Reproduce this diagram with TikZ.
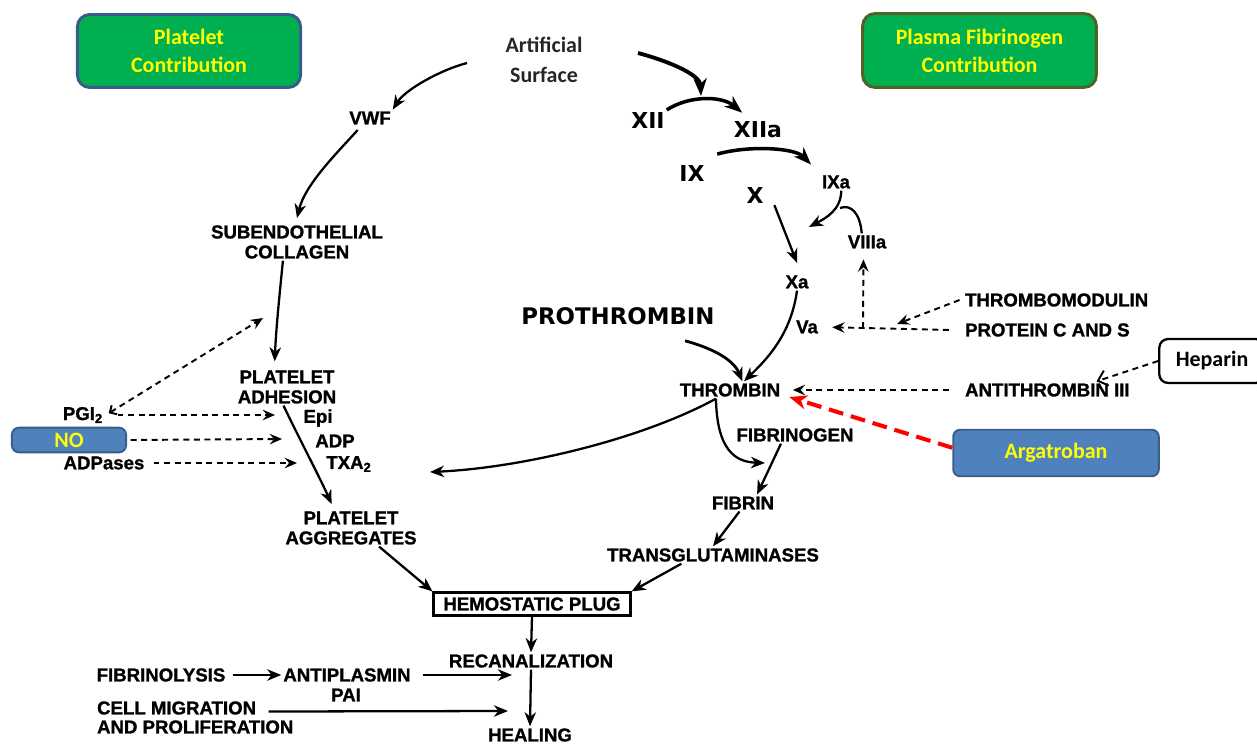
\documentclass[tikz,border=0pt]{standalone}
\usepackage{fontspec}
\setmainfont{Liberation Sans}
\newfontfamily\oldfont{Liberation Sans}[BoldFont=Liberation Sans Bold, BoldFeatures={FakeBold=1.2}]
\newfontfamily\calibri{Carlito}
\newfontfamily\dejavu{DejaVu Sans}
\usetikzlibrary{arrows.meta}

\definecolor{boxgreen}{RGB}{0,176,80}
\definecolor{boxblue}{RGB}{79,129,189}
\definecolor{blueedge}{RGB}{56,93,138}
\definecolor{oliveedge}{RGB}{79,98,40}
\definecolor{txtyellow}{RGB}{255,255,0}

\begin{document}
\begin{tikzpicture}[x=0.02cm, y=-0.02cm,
    old/.style={font=\oldfont\bfseries\fontsize{10.6}{11.4}\selectfont, inner sep=1pt, align=center},
    big/.style={font=\dejavu\bfseries\fontsize{12.5}{14}\selectfont, inner sep=1pt},
    label box/.style={rounded corners=7pt, fill=boxgreen, line width=1.7pt, inner sep=0pt,
        font=\calibri\bfseries\fontsize{12.5}{16}\selectfont, text=txtyellow, align=center},
    drug/.style={rounded corners=4pt, fill=boxblue, draw=blueedge, line width=1.1pt, inner sep=0pt,
        font=\calibri\bfseries\fontsize{12.5}{15}\selectfont, text=txtyellow},
    arr/.style={-{Stealth[length=8pt,width=6.5pt,inset=2.5pt]}, line width=1.3pt},
    heavy/.style={-{Stealth[length=10pt,width=7.5pt,inset=3pt]}, line width=2.2pt},
    dasharr/.style={-{Stealth[length=7pt,width=6pt,inset=2.5pt]}, line width=1.1pt, dash pattern=on 3.4pt off 2.6pt},
]
    \useasboundingbox (0,0) rectangle (1257,746);

    % headings
    \node[label box, draw=blueedge, minimum width=127pt, minimum height=41.5pt] (platelet) at (189,51) {Platelet\\Contribution};
    \node[label box, draw=oliveedge, minimum width=133pt, minimum height=42pt] (plasma) at (979.5,50.5) {Plasma Fibrinogen\\Contribution};
    \node[font=\calibri\bfseries\fontsize{12.5}{17}\selectfont, text=black!85, align=center] (art) at (544,60) {Artificial\\Surface};

    % platelet side
    \node[old] (vwf) at (370,118) {VWF};
    \node[old] (collagen) at (297,242) {SUBENDOTHELIAL\\COLLAGEN};
    \node[old] (adhesion) at (287,387) {PLATELET\\ADHESION};
    \node[old] (epi) at (318,418) {Epi};
    \node[old] (adp) at (335,441) {ADP};
    \node[old] (txa) at (349,464) {TXA\textsubscript{2}};
    \node[old] (aggr) at (351,528) {PLATELET\\AGGREGATES};
    \node[old] (pgi) at (83,415) {PGI\textsubscript{2}};
    \node[drug, minimum width=65pt, minimum height=14pt] (no) at (69,440) {NO};
    \node[old] (adpases) at (104,463) {ADPases};

    % coagulation side
    \node[big] (xii) at (648,120) {XII};
    \node[big] (xiia) at (758,130) {XIIa};
    \node[big] (ix) at (692,173) {IX};
    \node[big] (x) at (755,195) {X};
    \node[old] (ixa) at (836,182) {IXa};
    \node[old] (viiia) at (867,242) {VIIIa};
    \node[old] (xa) at (797,282) {Xa};
    \node[old] (va) at (807,327) {Va};
    \node[big, font=\dejavu\bfseries\fontsize{13}{14}\selectfont] (prothrombin) at (618,316) {PROTHROMBIN};
    \node[old] (thrombin) at (730,390) {THROMBIN};
    \node[old, anchor=west] (thrombomodulin) at (963,300) {THROMBOMODULIN};
    \node[old, anchor=west] (proteincs) at (963,330) {PROTEIN C AND S};
    \node[old, anchor=west] (antithrombin) at (963,390) {ANTITHROMBIN III};
    \node[draw, fill=white, rounded corners=5pt, line width=1.3pt, minimum width=60pt, minimum height=25pt,
        font=\calibri\bfseries\fontsize{12.5}{15}\selectfont] (heparin) at (1212,361) {Heparin};
    \node[drug, minimum width=117pt, minimum height=26.5pt] (argatroban) at (1056,453) {Argatroban};
    \node[old] (fibrinogen) at (795,435) {FIBRINOGEN};
    \node[old] (fibrin) at (743,503) {FIBRIN};
    \node[old] (transglut) at (713,555) {TRANSGLUTAMINASES};

    % plug and healing
    \node[old, draw, line width=1.3pt, minimum width=112pt, minimum height=13pt] (plug) at (532,604) {HEMOSTATIC PLUG};
    \node[old] (recan) at (531,661) {RECANALIZATION};
    \node[old] (healing) at (530,735) {HEALING};
    \node[old] (fibrinolysis) at (161,675) {FIBRINOLYSIS};
    \node[old] (antiplasmin) at (347,675) {ANTIPLASMIN};
    \node[old] (pai) at (346,695) {PAI};
    \node[old, anchor=west] (cell) at (95,708) {CELL MIGRATION};
    \node[old, anchor=west] (prolif) at (95,727) {AND PROLIFERATION};

    % free ends
    \coordinate (artStart) at (467,63);
    \coordinate (surfStart) at (638,53);
    \coordinate (tXII) at (701,96);
    \coordinate (ixaEnd) at (809,227);
    \coordinate (ixaJoin) at (840,208);
    \coordinate (tAdh) at (263,318);
    \coordinate (tEpi) at (275,415);
    \coordinate (tADP) at (282,439);
    \coordinate (tTXA) at (297,463);
    \coordinate (tAgg) at (430,472);
    \coordinate (tFib) at (765,463);
    \coordinate (vaJoin) at (863,328);
    \coordinate (tmEnd) at (897,324);
    \coordinate (tRecan) at (512,675);
    \coordinate (tHeal) at (508,711);

    % platelet arrows
    \draw[arr] (artStart) .. controls (440,70) and (405,90) .. (vwf.north east);
    \draw[arr] ([shift={(-7pt,-2pt)}]vwf.south) .. controls (335,155) and (305,185) .. ([yshift=3pt]collagen.north);
    \draw[arr] ([xshift=-8pt]collagen.south) .. controls (279,300) and (276,330) .. ([shift={(-7pt,4pt)}]adhesion.north);
    \draw[arr] ([xshift=-2pt]adhesion.south) .. controls (300,440) and (320,478) .. ([shift={(-11pt,3pt)}]aggr.north);
    \draw[arr] ([xshift=16pt]aggr.south) -- (plug.north west);

    % inhibitors of platelets
    \draw[dasharr, {Straight Barb[length=3pt,width=6pt]}-{Stealth[length=7pt,width=6pt,inset=2.5pt]}] ([shift={(2pt,1pt)}]pgi.east) -- (tAdh);
    \draw[dasharr] ([xshift=7pt]pgi.east) -- (tEpi);
    \draw[dasharr] ([xshift=2pt]no.east) -- (tADP);
    \draw[dasharr] ([xshift=4pt]adpases.east) -- (tTXA);

    % intrinsic cascade
    \draw[heavy] (surfStart) .. controls (675,63) and (700,76) .. (tXII);
    \draw[heavy, line width=2pt] (xii.north east) .. controls (690,95) and (722,96) .. ([shift={(-9pt,4pt)}]xiia.north);
    \draw[heavy, line width=2pt] ([shift={(6pt,5pt)}]ix.north east) .. controls (750,145) and (795,148) .. ([shift={(-5pt,5pt)}]ixa.north west);
    \draw[arr] ([xshift=3pt]ixa.south) .. controls (841,210) and (826,218) .. (ixaEnd);
    \draw[line width=1.3pt] ([xshift=-3pt]viiia.north) .. controls (860,213) and (851,204) .. (ixaJoin);
    \draw[arr] ([xshift=5pt]x.south east) -- ([yshift=6pt]xa.north);
    \draw[arr] (xa.south) .. controls (791,335) and (766,360) .. ([xshift=8pt]thrombin.north);
    \draw[arr, line width=1.6pt] ([shift={(-18pt,-8pt)}]prothrombin.south east) .. controls (708,347) and (733,358) .. ([xshift=7pt]thrombin.north);

    % natural anticoagulants
    \draw[dasharr, shorten >=7pt] ([xshift=-8pt]proteincs.west) -- (va.east);
    \draw[dasharr, shorten >=5pt] (vaJoin) -- ([xshift=-2pt]viiia.south);
    \draw[dasharr] ([xshift=-2pt]thrombomodulin.west) -- (tmEnd);
    \draw[dasharr, shorten >=6pt] ([xshift=-8pt]antithrombin.west) -- (thrombin.east);
    \draw[dasharr, -{Straight Barb[length=5pt,width=9pt]}] (heparin.west) -- ([xshift=-20pt]antithrombin.north east);
    \draw[red, line width=2.3pt, dash pattern=on 8.5pt off 4.5pt, -{Stealth[length=10pt,width=8pt,inset=3pt]}]
        ([yshift=3pt]argatroban.west) -- ([shift={(4pt,-4pt)}]thrombin.east);

    % thrombin products
    \draw[arr] ([xshift=-8pt]thrombin.south) .. controls (640,440) and (520,468) .. (tAgg);
    \draw[arr] ([xshift=-8pt]thrombin.south) .. controls (717,450) and (735,462) .. (tFib);
    \draw[arr] ([xshift=-8pt]fibrinogen.south) -- ([xshift=8pt]fibrin.north);
    \draw[arr] ([xshift=-2pt]fibrin.south) -- (transglut.north);
    \draw[arr] ([xshift=-18pt]transglut.south) -- (plug.north east);

    % healing
    \draw[arr] (plug.south) -- (recan.north);
    \draw[arr] (recan.south) -- (healing.north);
    \draw[arr] ([xshift=3pt]fibrinolysis.east) -- (antiplasmin.west);
    \draw[arr] ([xshift=6pt]antiplasmin.east) -- (tRecan);
    \draw[arr] ([shift={(6pt,-2pt)}]cell.east) -- (tHeal);
\end{tikzpicture}
\end{document}
